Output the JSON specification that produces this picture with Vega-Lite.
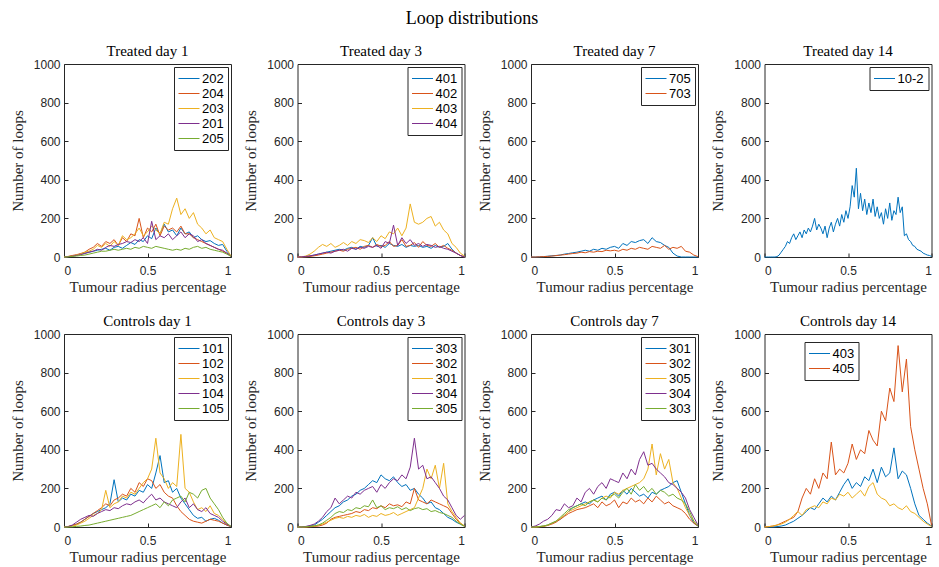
{
"$schema":"https://vega.github.io/schema/vega-lite/v6.json",
"padding":{"left":9,"top":9,"right":5,"bottom":5},
"background":"white",
"title":{"text":"Loop distributions","font":"Liberation Serif","fontSize":18,"fontWeight":"normal","color":"black","anchor":"middle","offset":16,"frame":"bounds"},
"config":{
 "view":{"stroke":"#262626","strokeWidth":1},
 "axis":{"domain":false,"grid":false,"tickColor":"#262626","tickSize":-4,"labelPadding":8,"labelFont":"Liberation Sans","labelFontSize":12,"labelColor":"#262626","titleFont":"Liberation Serif","titleFontSize":15,"titleFontWeight":"normal","titleColor":"#262626"},
 "axisX":{"labelPadding":12,"titlePadding":3},
 "axisY":{"titlePadding":8},
 "title":{"font":"Liberation Serif","fontSize":15,"fontWeight":"normal","color":"black","offset":-1,"frame":"group"},
 "legend":{"orient":"top-right","offset":3,"strokeColor":"#262626","fillColor":"white","padding":4,"symbolType":"M-1,0L2,0","symbolSize":196,"symbolStrokeWidth":1,"labelFont":"Liberation Sans","labelFontSize":13,"labelColor":"black","labelOffset":9,"rowPadding":0,"cornerRadius":0},
 "line":{"strokeWidth":1,"clip":true}
},
"bounds":"flush",
"columns":4,
"spacing":{"row":77,"column":66.5},
"resolve":{"scale":{"color":"independent"},"legend":{"color":"independent"}},
"datasets":{
"t1":[
{"s":"202","x":0,"y":0},{"s":"202","x":0.025,"y":2},{"s":"202","x":0.05,"y":5},{"s":"202","x":0.075,"y":10},{"s":"202","x":0.1,"y":15},{"s":"202","x":0.125,"y":20},{"s":"202","x":0.15,"y":25},{"s":"202","x":0.175,"y":30},{"s":"202","x":0.2,"y":35},{"s":"202","x":0.225,"y":40},{"s":"202","x":0.25,"y":45},{"s":"202","x":0.275,"y":35},{"s":"202","x":0.3,"y":50},{"s":"202","x":0.325,"y":55},{"s":"202","x":0.35,"y":45},{"s":"202","x":0.375,"y":60},{"s":"202","x":0.4,"y":75},{"s":"202","x":0.425,"y":65},{"s":"202","x":0.45,"y":90},{"s":"202","x":0.475,"y":80},{"s":"202","x":0.5,"y":110},{"s":"202","x":0.525,"y":95},{"s":"202","x":0.55,"y":150},{"s":"202","x":0.575,"y":120},{"s":"202","x":0.6,"y":170},{"s":"202","x":0.625,"y":130},{"s":"202","x":0.65,"y":140},{"s":"202","x":0.675,"y":110},{"s":"202","x":0.7,"y":150},{"s":"202","x":0.725,"y":120},{"s":"202","x":0.75,"y":130},{"s":"202","x":0.775,"y":100},{"s":"202","x":0.8,"y":110},{"s":"202","x":0.825,"y":90},{"s":"202","x":0.85,"y":80},{"s":"202","x":0.875,"y":85},{"s":"202","x":0.9,"y":70},{"s":"202","x":0.925,"y":60},{"s":"202","x":0.95,"y":65},{"s":"202","x":0.975,"y":30},{"s":"202","x":1,"y":5},
{"s":"204","x":0,"y":0},{"s":"204","x":0.025,"y":3},{"s":"204","x":0.05,"y":8},{"s":"204","x":0.075,"y":12},{"s":"204","x":0.1,"y":18},{"s":"204","x":0.125,"y":25},{"s":"204","x":0.15,"y":40},{"s":"204","x":0.175,"y":50},{"s":"204","x":0.2,"y":70},{"s":"204","x":0.225,"y":55},{"s":"204","x":0.25,"y":80},{"s":"204","x":0.275,"y":70},{"s":"204","x":0.3,"y":90},{"s":"204","x":0.325,"y":60},{"s":"204","x":0.35,"y":100},{"s":"204","x":0.375,"y":80},{"s":"204","x":0.4,"y":120},{"s":"204","x":0.425,"y":110},{"s":"204","x":0.45,"y":200},{"s":"204","x":0.475,"y":100},{"s":"204","x":0.5,"y":150},{"s":"204","x":0.525,"y":130},{"s":"204","x":0.55,"y":170},{"s":"204","x":0.575,"y":110},{"s":"204","x":0.6,"y":160},{"s":"204","x":0.625,"y":140},{"s":"204","x":0.65,"y":150},{"s":"204","x":0.675,"y":130},{"s":"204","x":0.7,"y":160},{"s":"204","x":0.725,"y":120},{"s":"204","x":0.75,"y":120},{"s":"204","x":0.775,"y":100},{"s":"204","x":0.8,"y":90},{"s":"204","x":0.825,"y":80},{"s":"204","x":0.85,"y":70},{"s":"204","x":0.875,"y":60},{"s":"204","x":0.9,"y":50},{"s":"204","x":0.925,"y":40},{"s":"204","x":0.95,"y":30},{"s":"204","x":0.975,"y":20},{"s":"204","x":1,"y":5},
{"s":"203","x":0,"y":0},{"s":"203","x":0.025,"y":2},{"s":"203","x":0.05,"y":5},{"s":"203","x":0.075,"y":10},{"s":"203","x":0.1,"y":15},{"s":"203","x":0.125,"y":25},{"s":"203","x":0.15,"y":30},{"s":"203","x":0.175,"y":40},{"s":"203","x":0.2,"y":60},{"s":"203","x":0.225,"y":50},{"s":"203","x":0.25,"y":70},{"s":"203","x":0.275,"y":55},{"s":"203","x":0.3,"y":80},{"s":"203","x":0.325,"y":60},{"s":"203","x":0.35,"y":110},{"s":"203","x":0.375,"y":90},{"s":"203","x":0.4,"y":100},{"s":"203","x":0.425,"y":120},{"s":"203","x":0.45,"y":150},{"s":"203","x":0.475,"y":110},{"s":"203","x":0.5,"y":130},{"s":"203","x":0.525,"y":160},{"s":"203","x":0.55,"y":140},{"s":"203","x":0.575,"y":120},{"s":"203","x":0.6,"y":180},{"s":"203","x":0.625,"y":170},{"s":"203","x":0.65,"y":250},{"s":"203","x":0.675,"y":305},{"s":"203","x":0.7,"y":220},{"s":"203","x":0.725,"y":250},{"s":"203","x":0.75,"y":200},{"s":"203","x":0.775,"y":230},{"s":"203","x":0.8,"y":170},{"s":"203","x":0.825,"y":150},{"s":"203","x":0.85,"y":120},{"s":"203","x":0.875,"y":140},{"s":"203","x":0.9,"y":100},{"s":"203","x":0.925,"y":90},{"s":"203","x":0.95,"y":80},{"s":"203","x":0.975,"y":40},{"s":"203","x":1,"y":5},
{"s":"201","x":0,"y":0},{"s":"201","x":0.025,"y":2},{"s":"201","x":0.05,"y":4},{"s":"201","x":0.075,"y":8},{"s":"201","x":0.1,"y":12},{"s":"201","x":0.125,"y":18},{"s":"201","x":0.15,"y":25},{"s":"201","x":0.175,"y":30},{"s":"201","x":0.2,"y":40},{"s":"201","x":0.225,"y":35},{"s":"201","x":0.25,"y":50},{"s":"201","x":0.275,"y":60},{"s":"201","x":0.3,"y":55},{"s":"201","x":0.325,"y":65},{"s":"201","x":0.35,"y":70},{"s":"201","x":0.375,"y":80},{"s":"201","x":0.4,"y":75},{"s":"201","x":0.425,"y":90},{"s":"201","x":0.45,"y":80},{"s":"201","x":0.475,"y":100},{"s":"201","x":0.5,"y":70},{"s":"201","x":0.525,"y":185},{"s":"201","x":0.55,"y":90},{"s":"201","x":0.575,"y":110},{"s":"201","x":0.6,"y":100},{"s":"201","x":0.625,"y":120},{"s":"201","x":0.65,"y":90},{"s":"201","x":0.675,"y":110},{"s":"201","x":0.7,"y":130},{"s":"201","x":0.725,"y":100},{"s":"201","x":0.75,"y":120},{"s":"201","x":0.775,"y":110},{"s":"201","x":0.8,"y":80},{"s":"201","x":0.825,"y":90},{"s":"201","x":0.85,"y":70},{"s":"201","x":0.875,"y":60},{"s":"201","x":0.9,"y":50},{"s":"201","x":0.925,"y":40},{"s":"201","x":0.95,"y":35},{"s":"201","x":0.975,"y":20},{"s":"201","x":1,"y":3},
{"s":"205","x":0,"y":0},{"s":"205","x":0.025,"y":1},{"s":"205","x":0.05,"y":3},{"s":"205","x":0.075,"y":5},{"s":"205","x":0.1,"y":8},{"s":"205","x":0.125,"y":10},{"s":"205","x":0.15,"y":15},{"s":"205","x":0.175,"y":20},{"s":"205","x":0.2,"y":25},{"s":"205","x":0.225,"y":30},{"s":"205","x":0.25,"y":30},{"s":"205","x":0.275,"y":35},{"s":"205","x":0.3,"y":40},{"s":"205","x":0.325,"y":35},{"s":"205","x":0.35,"y":40},{"s":"205","x":0.375,"y":45},{"s":"205","x":0.4,"y":40},{"s":"205","x":0.425,"y":50},{"s":"205","x":0.45,"y":45},{"s":"205","x":0.475,"y":55},{"s":"205","x":0.5,"y":50},{"s":"205","x":0.525,"y":45},{"s":"205","x":0.55,"y":55},{"s":"205","x":0.575,"y":50},{"s":"205","x":0.6,"y":45},{"s":"205","x":0.625,"y":40},{"s":"205","x":0.65,"y":35},{"s":"205","x":0.675,"y":40},{"s":"205","x":0.7,"y":35},{"s":"205","x":0.725,"y":45},{"s":"205","x":0.75,"y":40},{"s":"205","x":0.775,"y":50},{"s":"205","x":0.8,"y":55},{"s":"205","x":0.825,"y":45},{"s":"205","x":0.85,"y":50},{"s":"205","x":0.875,"y":40},{"s":"205","x":0.9,"y":35},{"s":"205","x":0.925,"y":30},{"s":"205","x":0.95,"y":25},{"s":"205","x":0.975,"y":15},{"s":"205","x":1,"y":3}
],
"t3":[
{"s":"401","x":0,"y":0},{"s":"401","x":0.025,"y":0},{"s":"401","x":0.05,"y":2},{"s":"401","x":0.075,"y":5},{"s":"401","x":0.1,"y":10},{"s":"401","x":0.125,"y":15},{"s":"401","x":0.15,"y":20},{"s":"401","x":0.175,"y":25},{"s":"401","x":0.2,"y":30},{"s":"401","x":0.225,"y":35},{"s":"401","x":0.25,"y":40},{"s":"401","x":0.275,"y":35},{"s":"401","x":0.3,"y":45},{"s":"401","x":0.325,"y":50},{"s":"401","x":0.35,"y":40},{"s":"401","x":0.375,"y":55},{"s":"401","x":0.4,"y":50},{"s":"401","x":0.425,"y":60},{"s":"401","x":0.45,"y":100},{"s":"401","x":0.475,"y":55},{"s":"401","x":0.5,"y":60},{"s":"401","x":0.525,"y":50},{"s":"401","x":0.55,"y":70},{"s":"401","x":0.575,"y":60},{"s":"401","x":0.6,"y":55},{"s":"401","x":0.625,"y":65},{"s":"401","x":0.65,"y":50},{"s":"401","x":0.675,"y":60},{"s":"401","x":0.7,"y":55},{"s":"401","x":0.725,"y":60},{"s":"401","x":0.75,"y":50},{"s":"401","x":0.775,"y":55},{"s":"401","x":0.8,"y":45},{"s":"401","x":0.825,"y":60},{"s":"401","x":0.85,"y":50},{"s":"401","x":0.875,"y":55},{"s":"401","x":0.9,"y":70},{"s":"401","x":0.925,"y":40},{"s":"401","x":0.95,"y":20},{"s":"401","x":0.975,"y":8},{"s":"401","x":1,"y":0},
{"s":"402","x":0,"y":0},{"s":"402","x":0.025,"y":0},{"s":"402","x":0.05,"y":1},{"s":"402","x":0.075,"y":3},{"s":"402","x":0.1,"y":6},{"s":"402","x":0.125,"y":10},{"s":"402","x":0.15,"y":15},{"s":"402","x":0.175,"y":20},{"s":"402","x":0.2,"y":25},{"s":"402","x":0.225,"y":30},{"s":"402","x":0.25,"y":35},{"s":"402","x":0.275,"y":30},{"s":"402","x":0.3,"y":40},{"s":"402","x":0.325,"y":45},{"s":"402","x":0.35,"y":50},{"s":"402","x":0.375,"y":40},{"s":"402","x":0.4,"y":55},{"s":"402","x":0.425,"y":60},{"s":"402","x":0.45,"y":50},{"s":"402","x":0.475,"y":65},{"s":"402","x":0.5,"y":55},{"s":"402","x":0.525,"y":60},{"s":"402","x":0.55,"y":80},{"s":"402","x":0.575,"y":55},{"s":"402","x":0.6,"y":60},{"s":"402","x":0.625,"y":90},{"s":"402","x":0.65,"y":55},{"s":"402","x":0.675,"y":60},{"s":"402","x":0.7,"y":75},{"s":"402","x":0.725,"y":50},{"s":"402","x":0.75,"y":80},{"s":"402","x":0.775,"y":60},{"s":"402","x":0.8,"y":55},{"s":"402","x":0.825,"y":70},{"s":"402","x":0.85,"y":50},{"s":"402","x":0.875,"y":60},{"s":"402","x":0.9,"y":45},{"s":"402","x":0.925,"y":35},{"s":"402","x":0.95,"y":20},{"s":"402","x":0.975,"y":8},{"s":"402","x":1,"y":0},
{"s":"403","x":0,"y":0},{"s":"403","x":0.025,"y":1},{"s":"403","x":0.05,"y":5},{"s":"403","x":0.075,"y":15},{"s":"403","x":0.1,"y":30},{"s":"403","x":0.125,"y":50},{"s":"403","x":0.15,"y":65},{"s":"403","x":0.175,"y":55},{"s":"403","x":0.2,"y":70},{"s":"403","x":0.225,"y":50},{"s":"403","x":0.25,"y":60},{"s":"403","x":0.275,"y":75},{"s":"403","x":0.3,"y":60},{"s":"403","x":0.325,"y":80},{"s":"403","x":0.35,"y":70},{"s":"403","x":0.375,"y":90},{"s":"403","x":0.4,"y":85},{"s":"403","x":0.425,"y":75},{"s":"403","x":0.45,"y":100},{"s":"403","x":0.475,"y":80},{"s":"403","x":0.5,"y":110},{"s":"403","x":0.525,"y":95},{"s":"403","x":0.55,"y":130},{"s":"403","x":0.575,"y":120},{"s":"403","x":0.6,"y":150},{"s":"403","x":0.625,"y":110},{"s":"403","x":0.65,"y":150},{"s":"403","x":0.675,"y":275},{"s":"403","x":0.7,"y":180},{"s":"403","x":0.725,"y":170},{"s":"403","x":0.75,"y":180},{"s":"403","x":0.775,"y":200},{"s":"403","x":0.8,"y":210},{"s":"403","x":0.825,"y":160},{"s":"403","x":0.85,"y":180},{"s":"403","x":0.875,"y":140},{"s":"403","x":0.9,"y":120},{"s":"403","x":0.925,"y":70},{"s":"403","x":0.95,"y":50},{"s":"403","x":0.975,"y":20},{"s":"403","x":1,"y":5},
{"s":"404","x":0,"y":0},{"s":"404","x":0.025,"y":1},{"s":"404","x":0.05,"y":3},{"s":"404","x":0.075,"y":6},{"s":"404","x":0.1,"y":10},{"s":"404","x":0.125,"y":15},{"s":"404","x":0.15,"y":20},{"s":"404","x":0.175,"y":25},{"s":"404","x":0.2,"y":20},{"s":"404","x":0.225,"y":30},{"s":"404","x":0.25,"y":35},{"s":"404","x":0.275,"y":40},{"s":"404","x":0.3,"y":30},{"s":"404","x":0.325,"y":45},{"s":"404","x":0.35,"y":40},{"s":"404","x":0.375,"y":50},{"s":"404","x":0.4,"y":45},{"s":"404","x":0.425,"y":55},{"s":"404","x":0.45,"y":50},{"s":"404","x":0.475,"y":60},{"s":"404","x":0.5,"y":45},{"s":"404","x":0.525,"y":80},{"s":"404","x":0.55,"y":70},{"s":"404","x":0.575,"y":165},{"s":"404","x":0.6,"y":60},{"s":"404","x":0.625,"y":100},{"s":"404","x":0.65,"y":70},{"s":"404","x":0.675,"y":90},{"s":"404","x":0.7,"y":60},{"s":"404","x":0.725,"y":70},{"s":"404","x":0.75,"y":55},{"s":"404","x":0.775,"y":65},{"s":"404","x":0.8,"y":60},{"s":"404","x":0.825,"y":50},{"s":"404","x":0.85,"y":55},{"s":"404","x":0.875,"y":45},{"s":"404","x":0.9,"y":40},{"s":"404","x":0.925,"y":30},{"s":"404","x":0.95,"y":20},{"s":"404","x":0.975,"y":8},{"s":"404","x":1,"y":0}
],
"t7":[
{"s":"705","x":0,"y":0},{"s":"705","x":0.025,"y":0},{"s":"705","x":0.05,"y":1},{"s":"705","x":0.075,"y":2},{"s":"705","x":0.1,"y":4},{"s":"705","x":0.125,"y":6},{"s":"705","x":0.15,"y":8},{"s":"705","x":0.175,"y":10},{"s":"705","x":0.2,"y":15},{"s":"705","x":0.225,"y":18},{"s":"705","x":0.25,"y":22},{"s":"705","x":0.275,"y":25},{"s":"705","x":0.3,"y":30},{"s":"705","x":0.325,"y":35},{"s":"705","x":0.35,"y":30},{"s":"705","x":0.375,"y":40},{"s":"705","x":0.4,"y":35},{"s":"705","x":0.425,"y":45},{"s":"705","x":0.45,"y":40},{"s":"705","x":0.475,"y":50},{"s":"705","x":0.5,"y":55},{"s":"705","x":0.525,"y":45},{"s":"705","x":0.55,"y":70},{"s":"705","x":0.575,"y":60},{"s":"705","x":0.6,"y":80},{"s":"705","x":0.625,"y":75},{"s":"705","x":0.65,"y":85},{"s":"705","x":0.675,"y":90},{"s":"705","x":0.7,"y":70},{"s":"705","x":0.725,"y":100},{"s":"705","x":0.75,"y":80},{"s":"705","x":0.775,"y":75},{"s":"705","x":0.8,"y":60},{"s":"705","x":0.825,"y":50},{"s":"705","x":0.85,"y":20},{"s":"705","x":0.875,"y":5},{"s":"705","x":0.9,"y":0},{"s":"705","x":0.925,"y":0},{"s":"705","x":0.95,"y":0},{"s":"705","x":0.975,"y":0},{"s":"705","x":1,"y":0},
{"s":"703","x":0,"y":0},{"s":"703","x":0.025,"y":0},{"s":"703","x":0.05,"y":1},{"s":"703","x":0.075,"y":2},{"s":"703","x":0.1,"y":3},{"s":"703","x":0.125,"y":5},{"s":"703","x":0.15,"y":7},{"s":"703","x":0.175,"y":10},{"s":"703","x":0.2,"y":12},{"s":"703","x":0.225,"y":15},{"s":"703","x":0.25,"y":18},{"s":"703","x":0.275,"y":20},{"s":"703","x":0.3,"y":25},{"s":"703","x":0.325,"y":22},{"s":"703","x":0.35,"y":28},{"s":"703","x":0.375,"y":25},{"s":"703","x":0.4,"y":30},{"s":"703","x":0.425,"y":28},{"s":"703","x":0.45,"y":35},{"s":"703","x":0.475,"y":32},{"s":"703","x":0.5,"y":35},{"s":"703","x":0.525,"y":30},{"s":"703","x":0.55,"y":40},{"s":"703","x":0.575,"y":35},{"s":"703","x":0.6,"y":45},{"s":"703","x":0.625,"y":40},{"s":"703","x":0.65,"y":50},{"s":"703","x":0.675,"y":45},{"s":"703","x":0.7,"y":40},{"s":"703","x":0.725,"y":55},{"s":"703","x":0.75,"y":50},{"s":"703","x":0.775,"y":45},{"s":"703","x":0.8,"y":60},{"s":"703","x":0.825,"y":40},{"s":"703","x":0.85,"y":50},{"s":"703","x":0.875,"y":45},{"s":"703","x":0.9,"y":55},{"s":"703","x":0.925,"y":30},{"s":"703","x":0.95,"y":25},{"s":"703","x":0.975,"y":10},{"s":"703","x":1,"y":2}
],
"t14":[
{"s":"10-2","x":0,"y":0},{"s":"10-2","x":0.0125,"y":0},{"s":"10-2","x":0.025,"y":0},{"s":"10-2","x":0.0375,"y":0},{"s":"10-2","x":0.05,"y":0},{"s":"10-2","x":0.0625,"y":0},{"s":"10-2","x":0.075,"y":2},{"s":"10-2","x":0.0875,"y":10},{"s":"10-2","x":0.1,"y":25},{"s":"10-2","x":0.1125,"y":40},{"s":"10-2","x":0.125,"y":55},{"s":"10-2","x":0.1375,"y":80},{"s":"10-2","x":0.15,"y":70},{"s":"10-2","x":0.1625,"y":100},{"s":"10-2","x":0.175,"y":120},{"s":"10-2","x":0.1875,"y":90},{"s":"10-2","x":0.2,"y":110},{"s":"10-2","x":0.2125,"y":130},{"s":"10-2","x":0.225,"y":100},{"s":"10-2","x":0.2375,"y":140},{"s":"10-2","x":0.25,"y":120},{"s":"10-2","x":0.2625,"y":150},{"s":"10-2","x":0.275,"y":130},{"s":"10-2","x":0.2875,"y":160},{"s":"10-2","x":0.3,"y":200},{"s":"10-2","x":0.3125,"y":140},{"s":"10-2","x":0.325,"y":170},{"s":"10-2","x":0.3375,"y":150},{"s":"10-2","x":0.35,"y":120},{"s":"10-2","x":0.3625,"y":160},{"s":"10-2","x":0.375,"y":100},{"s":"10-2","x":0.3875,"y":150},{"s":"10-2","x":0.4,"y":180},{"s":"10-2","x":0.4125,"y":130},{"s":"10-2","x":0.425,"y":170},{"s":"10-2","x":0.4375,"y":200},{"s":"10-2","x":0.45,"y":160},{"s":"10-2","x":0.4625,"y":220},{"s":"10-2","x":0.475,"y":180},{"s":"10-2","x":0.4875,"y":240},{"s":"10-2","x":0.5,"y":200},{"s":"10-2","x":0.5125,"y":260},{"s":"10-2","x":0.525,"y":370},{"s":"10-2","x":0.5375,"y":310},{"s":"10-2","x":0.55,"y":460},{"s":"10-2","x":0.5625,"y":250},{"s":"10-2","x":0.575,"y":330},{"s":"10-2","x":0.5875,"y":240},{"s":"10-2","x":0.6,"y":300},{"s":"10-2","x":0.6125,"y":220},{"s":"10-2","x":0.625,"y":280},{"s":"10-2","x":0.6375,"y":230},{"s":"10-2","x":0.65,"y":300},{"s":"10-2","x":0.6625,"y":210},{"s":"10-2","x":0.675,"y":260},{"s":"10-2","x":0.6875,"y":200},{"s":"10-2","x":0.7,"y":230},{"s":"10-2","x":0.7125,"y":170},{"s":"10-2","x":0.725,"y":250},{"s":"10-2","x":0.7375,"y":200},{"s":"10-2","x":0.75,"y":280},{"s":"10-2","x":0.7625,"y":190},{"s":"10-2","x":0.775,"y":240},{"s":"10-2","x":0.7875,"y":220},{"s":"10-2","x":0.8,"y":310},{"s":"10-2","x":0.8125,"y":230},{"s":"10-2","x":0.825,"y":260},{"s":"10-2","x":0.8375,"y":110},{"s":"10-2","x":0.85,"y":120},{"s":"10-2","x":0.8625,"y":90},{"s":"10-2","x":0.875,"y":80},{"s":"10-2","x":0.8875,"y":60},{"s":"10-2","x":0.9,"y":55},{"s":"10-2","x":0.9125,"y":40},{"s":"10-2","x":0.925,"y":35},{"s":"10-2","x":0.9375,"y":30},{"s":"10-2","x":0.95,"y":20},{"s":"10-2","x":0.9625,"y":15},{"s":"10-2","x":0.975,"y":10},{"s":"10-2","x":0.9875,"y":8},{"s":"10-2","x":1,"y":3}
],
"c1":[
{"s":"101","x":0,"y":0},{"s":"101","x":0.025,"y":2},{"s":"101","x":0.05,"y":8},{"s":"101","x":0.075,"y":15},{"s":"101","x":0.1,"y":25},{"s":"101","x":0.125,"y":40},{"s":"101","x":0.15,"y":55},{"s":"101","x":0.175,"y":70},{"s":"101","x":0.2,"y":80},{"s":"101","x":0.225,"y":90},{"s":"101","x":0.25,"y":100},{"s":"101","x":0.275,"y":120},{"s":"101","x":0.3,"y":245},{"s":"101","x":0.325,"y":130},{"s":"101","x":0.35,"y":150},{"s":"101","x":0.375,"y":140},{"s":"101","x":0.4,"y":170},{"s":"101","x":0.425,"y":160},{"s":"101","x":0.45,"y":190},{"s":"101","x":0.475,"y":180},{"s":"101","x":0.5,"y":220},{"s":"101","x":0.525,"y":200},{"s":"101","x":0.55,"y":280},{"s":"101","x":0.575,"y":370},{"s":"101","x":0.6,"y":230},{"s":"101","x":0.625,"y":240},{"s":"101","x":0.65,"y":180},{"s":"101","x":0.675,"y":200},{"s":"101","x":0.7,"y":150},{"s":"101","x":0.725,"y":120},{"s":"101","x":0.75,"y":90},{"s":"101","x":0.775,"y":60},{"s":"101","x":0.8,"y":45},{"s":"101","x":0.825,"y":50},{"s":"101","x":0.85,"y":30},{"s":"101","x":0.875,"y":40},{"s":"101","x":0.9,"y":45},{"s":"101","x":0.925,"y":35},{"s":"101","x":0.95,"y":20},{"s":"101","x":0.975,"y":10},{"s":"101","x":1,"y":3},
{"s":"102","x":0,"y":0},{"s":"102","x":0.025,"y":3},{"s":"102","x":0.05,"y":8},{"s":"102","x":0.075,"y":15},{"s":"102","x":0.1,"y":25},{"s":"102","x":0.125,"y":40},{"s":"102","x":0.15,"y":55},{"s":"102","x":0.175,"y":70},{"s":"102","x":0.2,"y":85},{"s":"102","x":0.225,"y":100},{"s":"102","x":0.25,"y":120},{"s":"102","x":0.275,"y":110},{"s":"102","x":0.3,"y":140},{"s":"102","x":0.325,"y":150},{"s":"102","x":0.35,"y":170},{"s":"102","x":0.375,"y":160},{"s":"102","x":0.4,"y":200},{"s":"102","x":0.425,"y":180},{"s":"102","x":0.45,"y":230},{"s":"102","x":0.475,"y":210},{"s":"102","x":0.5,"y":250},{"s":"102","x":0.525,"y":240},{"s":"102","x":0.55,"y":200},{"s":"102","x":0.575,"y":220},{"s":"102","x":0.6,"y":180},{"s":"102","x":0.625,"y":160},{"s":"102","x":0.65,"y":150},{"s":"102","x":0.675,"y":110},{"s":"102","x":0.7,"y":80},{"s":"102","x":0.725,"y":60},{"s":"102","x":0.75,"y":40},{"s":"102","x":0.775,"y":30},{"s":"102","x":0.8,"y":25},{"s":"102","x":0.825,"y":20},{"s":"102","x":0.85,"y":30},{"s":"102","x":0.875,"y":40},{"s":"102","x":0.9,"y":35},{"s":"102","x":0.925,"y":30},{"s":"102","x":0.95,"y":20},{"s":"102","x":0.975,"y":10},{"s":"102","x":1,"y":2},
{"s":"103","x":0,"y":0},{"s":"103","x":0.025,"y":1},{"s":"103","x":0.05,"y":5},{"s":"103","x":0.075,"y":10},{"s":"103","x":0.1,"y":20},{"s":"103","x":0.125,"y":30},{"s":"103","x":0.15,"y":45},{"s":"103","x":0.175,"y":60},{"s":"103","x":0.2,"y":70},{"s":"103","x":0.225,"y":90},{"s":"103","x":0.25,"y":190},{"s":"103","x":0.275,"y":100},{"s":"103","x":0.3,"y":120},{"s":"103","x":0.325,"y":130},{"s":"103","x":0.35,"y":160},{"s":"103","x":0.375,"y":150},{"s":"103","x":0.4,"y":180},{"s":"103","x":0.425,"y":170},{"s":"103","x":0.45,"y":200},{"s":"103","x":0.475,"y":230},{"s":"103","x":0.5,"y":250},{"s":"103","x":0.525,"y":300},{"s":"103","x":0.55,"y":460},{"s":"103","x":0.575,"y":280},{"s":"103","x":0.6,"y":250},{"s":"103","x":0.625,"y":200},{"s":"103","x":0.65,"y":230},{"s":"103","x":0.675,"y":210},{"s":"103","x":0.7,"y":480},{"s":"103","x":0.725,"y":200},{"s":"103","x":0.75,"y":180},{"s":"103","x":0.775,"y":130},{"s":"103","x":0.8,"y":90},{"s":"103","x":0.825,"y":100},{"s":"103","x":0.85,"y":80},{"s":"103","x":0.875,"y":110},{"s":"103","x":0.9,"y":70},{"s":"103","x":0.925,"y":60},{"s":"103","x":0.95,"y":40},{"s":"103","x":0.975,"y":15},{"s":"103","x":1,"y":2},
{"s":"104","x":0,"y":0},{"s":"104","x":0.025,"y":2},{"s":"104","x":0.05,"y":10},{"s":"104","x":0.075,"y":25},{"s":"104","x":0.1,"y":40},{"s":"104","x":0.125,"y":50},{"s":"104","x":0.15,"y":60},{"s":"104","x":0.175,"y":55},{"s":"104","x":0.2,"y":70},{"s":"104","x":0.225,"y":80},{"s":"104","x":0.25,"y":90},{"s":"104","x":0.275,"y":85},{"s":"104","x":0.3,"y":100},{"s":"104","x":0.325,"y":95},{"s":"104","x":0.35,"y":110},{"s":"104","x":0.375,"y":120},{"s":"104","x":0.4,"y":115},{"s":"104","x":0.425,"y":130},{"s":"104","x":0.45,"y":140},{"s":"104","x":0.475,"y":125},{"s":"104","x":0.5,"y":150},{"s":"104","x":0.525,"y":170},{"s":"104","x":0.55,"y":140},{"s":"104","x":0.575,"y":150},{"s":"104","x":0.6,"y":130},{"s":"104","x":0.625,"y":120},{"s":"104","x":0.65,"y":110},{"s":"104","x":0.675,"y":100},{"s":"104","x":0.7,"y":130},{"s":"104","x":0.725,"y":150},{"s":"104","x":0.75,"y":100},{"s":"104","x":0.775,"y":120},{"s":"104","x":0.8,"y":90},{"s":"104","x":0.825,"y":80},{"s":"104","x":0.85,"y":100},{"s":"104","x":0.875,"y":70},{"s":"104","x":0.9,"y":60},{"s":"104","x":0.925,"y":50},{"s":"104","x":0.95,"y":30},{"s":"104","x":0.975,"y":15},{"s":"104","x":1,"y":2},
{"s":"105","x":0,"y":0},{"s":"105","x":0.025,"y":0},{"s":"105","x":0.05,"y":1},{"s":"105","x":0.075,"y":3},{"s":"105","x":0.1,"y":5},{"s":"105","x":0.125,"y":8},{"s":"105","x":0.15,"y":10},{"s":"105","x":0.175,"y":15},{"s":"105","x":0.2,"y":20},{"s":"105","x":0.225,"y":25},{"s":"105","x":0.25,"y":30},{"s":"105","x":0.275,"y":35},{"s":"105","x":0.3,"y":40},{"s":"105","x":0.325,"y":45},{"s":"105","x":0.35,"y":50},{"s":"105","x":0.375,"y":55},{"s":"105","x":0.4,"y":60},{"s":"105","x":0.425,"y":70},{"s":"105","x":0.45,"y":80},{"s":"105","x":0.475,"y":90},{"s":"105","x":0.5,"y":100},{"s":"105","x":0.525,"y":110},{"s":"105","x":0.55,"y":120},{"s":"105","x":0.575,"y":100},{"s":"105","x":0.6,"y":130},{"s":"105","x":0.625,"y":110},{"s":"105","x":0.65,"y":140},{"s":"105","x":0.675,"y":150},{"s":"105","x":0.7,"y":160},{"s":"105","x":0.725,"y":130},{"s":"105","x":0.75,"y":180},{"s":"105","x":0.775,"y":170},{"s":"105","x":0.8,"y":150},{"s":"105","x":0.825,"y":190},{"s":"105","x":0.85,"y":200},{"s":"105","x":0.875,"y":150},{"s":"105","x":0.9,"y":120},{"s":"105","x":0.925,"y":90},{"s":"105","x":0.95,"y":50},{"s":"105","x":0.975,"y":20},{"s":"105","x":1,"y":3}
],
"c3":[
{"s":"303","x":0,"y":0},{"s":"303","x":0.025,"y":0},{"s":"303","x":0.05,"y":2},{"s":"303","x":0.075,"y":5},{"s":"303","x":0.1,"y":10},{"s":"303","x":0.125,"y":25},{"s":"303","x":0.15,"y":40},{"s":"303","x":0.175,"y":60},{"s":"303","x":0.2,"y":80},{"s":"303","x":0.225,"y":100},{"s":"303","x":0.25,"y":110},{"s":"303","x":0.275,"y":130},{"s":"303","x":0.3,"y":140},{"s":"303","x":0.325,"y":160},{"s":"303","x":0.35,"y":170},{"s":"303","x":0.375,"y":190},{"s":"303","x":0.4,"y":200},{"s":"303","x":0.425,"y":220},{"s":"303","x":0.45,"y":240},{"s":"303","x":0.475,"y":230},{"s":"303","x":0.5,"y":270},{"s":"303","x":0.525,"y":250},{"s":"303","x":0.55,"y":240},{"s":"303","x":0.575,"y":260},{"s":"303","x":0.6,"y":230},{"s":"303","x":0.625,"y":210},{"s":"303","x":0.65,"y":220},{"s":"303","x":0.675,"y":190},{"s":"303","x":0.7,"y":200},{"s":"303","x":0.725,"y":170},{"s":"303","x":0.75,"y":150},{"s":"303","x":0.775,"y":120},{"s":"303","x":0.8,"y":130},{"s":"303","x":0.825,"y":100},{"s":"303","x":0.85,"y":90},{"s":"303","x":0.875,"y":70},{"s":"303","x":0.9,"y":50},{"s":"303","x":0.925,"y":40},{"s":"303","x":0.95,"y":25},{"s":"303","x":0.975,"y":15},{"s":"303","x":1,"y":5},
{"s":"302","x":0,"y":0},{"s":"302","x":0.025,"y":0},{"s":"302","x":0.05,"y":0},{"s":"302","x":0.075,"y":1},{"s":"302","x":0.1,"y":3},{"s":"302","x":0.125,"y":5},{"s":"302","x":0.15,"y":10},{"s":"302","x":0.175,"y":20},{"s":"302","x":0.2,"y":40},{"s":"302","x":0.225,"y":50},{"s":"302","x":0.25,"y":55},{"s":"302","x":0.275,"y":60},{"s":"302","x":0.3,"y":65},{"s":"302","x":0.325,"y":70},{"s":"302","x":0.35,"y":80},{"s":"302","x":0.375,"y":75},{"s":"302","x":0.4,"y":90},{"s":"302","x":0.425,"y":85},{"s":"302","x":0.45,"y":100},{"s":"302","x":0.475,"y":95},{"s":"302","x":0.5,"y":110},{"s":"302","x":0.525,"y":100},{"s":"302","x":0.55,"y":120},{"s":"302","x":0.575,"y":110},{"s":"302","x":0.6,"y":115},{"s":"302","x":0.625,"y":105},{"s":"302","x":0.65,"y":130},{"s":"302","x":0.675,"y":120},{"s":"302","x":0.7,"y":200},{"s":"302","x":0.725,"y":140},{"s":"302","x":0.75,"y":130},{"s":"302","x":0.775,"y":120},{"s":"302","x":0.8,"y":140},{"s":"302","x":0.825,"y":130},{"s":"302","x":0.85,"y":120},{"s":"302","x":0.875,"y":110},{"s":"302","x":0.9,"y":100},{"s":"302","x":0.925,"y":70},{"s":"302","x":0.95,"y":40},{"s":"302","x":0.975,"y":20},{"s":"302","x":1,"y":5},
{"s":"301","x":0,"y":0},{"s":"301","x":0.025,"y":0},{"s":"301","x":0.05,"y":1},{"s":"301","x":0.075,"y":3},{"s":"301","x":0.1,"y":5},{"s":"301","x":0.125,"y":10},{"s":"301","x":0.15,"y":15},{"s":"301","x":0.175,"y":25},{"s":"301","x":0.2,"y":35},{"s":"301","x":0.225,"y":45},{"s":"301","x":0.25,"y":50},{"s":"301","x":0.275,"y":45},{"s":"301","x":0.3,"y":55},{"s":"301","x":0.325,"y":50},{"s":"301","x":0.35,"y":60},{"s":"301","x":0.375,"y":55},{"s":"301","x":0.4,"y":65},{"s":"301","x":0.425,"y":50},{"s":"301","x":0.45,"y":60},{"s":"301","x":0.475,"y":55},{"s":"301","x":0.5,"y":70},{"s":"301","x":0.525,"y":60},{"s":"301","x":0.55,"y":65},{"s":"301","x":0.575,"y":75},{"s":"301","x":0.6,"y":60},{"s":"301","x":0.625,"y":70},{"s":"301","x":0.65,"y":80},{"s":"301","x":0.675,"y":90},{"s":"301","x":0.7,"y":100},{"s":"301","x":0.725,"y":150},{"s":"301","x":0.75,"y":200},{"s":"301","x":0.775,"y":300},{"s":"301","x":0.8,"y":250},{"s":"301","x":0.825,"y":320},{"s":"301","x":0.85,"y":200},{"s":"301","x":0.875,"y":330},{"s":"301","x":0.9,"y":120},{"s":"301","x":0.925,"y":80},{"s":"301","x":0.95,"y":50},{"s":"301","x":0.975,"y":20},{"s":"301","x":1,"y":5},
{"s":"304","x":0,"y":0},{"s":"304","x":0.025,"y":0},{"s":"304","x":0.05,"y":3},{"s":"304","x":0.075,"y":8},{"s":"304","x":0.1,"y":15},{"s":"304","x":0.125,"y":30},{"s":"304","x":0.15,"y":50},{"s":"304","x":0.175,"y":80},{"s":"304","x":0.2,"y":100},{"s":"304","x":0.225,"y":150},{"s":"304","x":0.25,"y":120},{"s":"304","x":0.275,"y":140},{"s":"304","x":0.3,"y":160},{"s":"304","x":0.325,"y":150},{"s":"304","x":0.35,"y":180},{"s":"304","x":0.375,"y":170},{"s":"304","x":0.4,"y":190},{"s":"304","x":0.425,"y":200},{"s":"304","x":0.45,"y":210},{"s":"304","x":0.475,"y":180},{"s":"304","x":0.5,"y":220},{"s":"304","x":0.525,"y":200},{"s":"304","x":0.55,"y":230},{"s":"304","x":0.575,"y":250},{"s":"304","x":0.6,"y":240},{"s":"304","x":0.625,"y":270},{"s":"304","x":0.65,"y":250},{"s":"304","x":0.675,"y":310},{"s":"304","x":0.7,"y":460},{"s":"304","x":0.725,"y":300},{"s":"304","x":0.75,"y":320},{"s":"304","x":0.775,"y":250},{"s":"304","x":0.8,"y":260},{"s":"304","x":0.825,"y":230},{"s":"304","x":0.85,"y":200},{"s":"304","x":0.875,"y":160},{"s":"304","x":0.9,"y":140},{"s":"304","x":0.925,"y":100},{"s":"304","x":0.95,"y":60},{"s":"304","x":0.975,"y":40},{"s":"304","x":1,"y":60},
{"s":"305","x":0,"y":0},{"s":"305","x":0.025,"y":0},{"s":"305","x":0.05,"y":1},{"s":"305","x":0.075,"y":3},{"s":"305","x":0.1,"y":6},{"s":"305","x":0.125,"y":10},{"s":"305","x":0.15,"y":20},{"s":"305","x":0.175,"y":35},{"s":"305","x":0.2,"y":50},{"s":"305","x":0.225,"y":70},{"s":"305","x":0.25,"y":80},{"s":"305","x":0.275,"y":75},{"s":"305","x":0.3,"y":90},{"s":"305","x":0.325,"y":85},{"s":"305","x":0.35,"y":100},{"s":"305","x":0.375,"y":95},{"s":"305","x":0.4,"y":110},{"s":"305","x":0.425,"y":105},{"s":"305","x":0.45,"y":140},{"s":"305","x":0.475,"y":100},{"s":"305","x":0.5,"y":110},{"s":"305","x":0.525,"y":90},{"s":"305","x":0.55,"y":100},{"s":"305","x":0.575,"y":95},{"s":"305","x":0.6,"y":105},{"s":"305","x":0.625,"y":90},{"s":"305","x":0.65,"y":100},{"s":"305","x":0.675,"y":85},{"s":"305","x":0.7,"y":95},{"s":"305","x":0.725,"y":100},{"s":"305","x":0.75,"y":90},{"s":"305","x":0.775,"y":95},{"s":"305","x":0.8,"y":80},{"s":"305","x":0.825,"y":85},{"s":"305","x":0.85,"y":75},{"s":"305","x":0.875,"y":70},{"s":"305","x":0.9,"y":60},{"s":"305","x":0.925,"y":50},{"s":"305","x":0.95,"y":30},{"s":"305","x":0.975,"y":15},{"s":"305","x":1,"y":3}
],
"c7":[
{"s":"301","x":0,"y":0},{"s":"301","x":0.025,"y":0},{"s":"301","x":0.05,"y":2},{"s":"301","x":0.075,"y":5},{"s":"301","x":0.1,"y":10},{"s":"301","x":0.125,"y":20},{"s":"301","x":0.15,"y":30},{"s":"301","x":0.175,"y":40},{"s":"301","x":0.2,"y":60},{"s":"301","x":0.225,"y":80},{"s":"301","x":0.25,"y":100},{"s":"301","x":0.275,"y":110},{"s":"301","x":0.3,"y":120},{"s":"301","x":0.325,"y":130},{"s":"301","x":0.35,"y":120},{"s":"301","x":0.375,"y":140},{"s":"301","x":0.4,"y":150},{"s":"301","x":0.425,"y":160},{"s":"301","x":0.45,"y":140},{"s":"301","x":0.475,"y":170},{"s":"301","x":0.5,"y":180},{"s":"301","x":0.525,"y":160},{"s":"301","x":0.55,"y":190},{"s":"301","x":0.575,"y":170},{"s":"301","x":0.6,"y":200},{"s":"301","x":0.625,"y":180},{"s":"301","x":0.65,"y":160},{"s":"301","x":0.675,"y":170},{"s":"301","x":0.7,"y":150},{"s":"301","x":0.725,"y":180},{"s":"301","x":0.75,"y":170},{"s":"301","x":0.775,"y":190},{"s":"301","x":0.8,"y":200},{"s":"301","x":0.825,"y":210},{"s":"301","x":0.85,"y":230},{"s":"301","x":0.875,"y":240},{"s":"301","x":0.9,"y":180},{"s":"301","x":0.925,"y":120},{"s":"301","x":0.95,"y":60},{"s":"301","x":0.975,"y":20},{"s":"301","x":1,"y":5},
{"s":"302","x":0,"y":0},{"s":"302","x":0.025,"y":0},{"s":"302","x":0.05,"y":1},{"s":"302","x":0.075,"y":3},{"s":"302","x":0.1,"y":8},{"s":"302","x":0.125,"y":15},{"s":"302","x":0.15,"y":25},{"s":"302","x":0.175,"y":40},{"s":"302","x":0.2,"y":55},{"s":"302","x":0.225,"y":70},{"s":"302","x":0.25,"y":80},{"s":"302","x":0.275,"y":90},{"s":"302","x":0.3,"y":95},{"s":"302","x":0.325,"y":100},{"s":"302","x":0.35,"y":110},{"s":"302","x":0.375,"y":120},{"s":"302","x":0.4,"y":100},{"s":"302","x":0.425,"y":130},{"s":"302","x":0.45,"y":110},{"s":"302","x":0.475,"y":120},{"s":"302","x":0.5,"y":140},{"s":"302","x":0.525,"y":100},{"s":"302","x":0.55,"y":130},{"s":"302","x":0.575,"y":120},{"s":"302","x":0.6,"y":150},{"s":"302","x":0.625,"y":130},{"s":"302","x":0.65,"y":140},{"s":"302","x":0.675,"y":120},{"s":"302","x":0.7,"y":150},{"s":"302","x":0.725,"y":130},{"s":"302","x":0.75,"y":160},{"s":"302","x":0.775,"y":140},{"s":"302","x":0.8,"y":120},{"s":"302","x":0.825,"y":130},{"s":"302","x":0.85,"y":110},{"s":"302","x":0.875,"y":100},{"s":"302","x":0.9,"y":90},{"s":"302","x":0.925,"y":70},{"s":"302","x":0.95,"y":40},{"s":"302","x":0.975,"y":20},{"s":"302","x":1,"y":5},
{"s":"305","x":0,"y":0},{"s":"305","x":0.025,"y":0},{"s":"305","x":0.05,"y":2},{"s":"305","x":0.075,"y":5},{"s":"305","x":0.1,"y":10},{"s":"305","x":0.125,"y":20},{"s":"305","x":0.15,"y":30},{"s":"305","x":0.175,"y":45},{"s":"305","x":0.2,"y":60},{"s":"305","x":0.225,"y":80},{"s":"305","x":0.25,"y":90},{"s":"305","x":0.275,"y":100},{"s":"305","x":0.3,"y":110},{"s":"305","x":0.325,"y":120},{"s":"305","x":0.35,"y":130},{"s":"305","x":0.375,"y":140},{"s":"305","x":0.4,"y":130},{"s":"305","x":0.425,"y":150},{"s":"305","x":0.45,"y":160},{"s":"305","x":0.475,"y":150},{"s":"305","x":0.5,"y":180},{"s":"305","x":0.525,"y":170},{"s":"305","x":0.55,"y":190},{"s":"305","x":0.575,"y":200},{"s":"305","x":0.6,"y":210},{"s":"305","x":0.625,"y":220},{"s":"305","x":0.65,"y":230},{"s":"305","x":0.675,"y":250},{"s":"305","x":0.7,"y":300},{"s":"305","x":0.725,"y":430},{"s":"305","x":0.75,"y":270},{"s":"305","x":0.775,"y":380},{"s":"305","x":0.8,"y":300},{"s":"305","x":0.825,"y":350},{"s":"305","x":0.85,"y":230},{"s":"305","x":0.875,"y":200},{"s":"305","x":0.9,"y":150},{"s":"305","x":0.925,"y":100},{"s":"305","x":0.95,"y":60},{"s":"305","x":0.975,"y":30},{"s":"305","x":1,"y":5},
{"s":"304","x":0,"y":0},{"s":"304","x":0.025,"y":5},{"s":"304","x":0.05,"y":15},{"s":"304","x":0.075,"y":30},{"s":"304","x":0.1,"y":40},{"s":"304","x":0.125,"y":60},{"s":"304","x":0.15,"y":90},{"s":"304","x":0.175,"y":85},{"s":"304","x":0.2,"y":120},{"s":"304","x":0.225,"y":100},{"s":"304","x":0.25,"y":110},{"s":"304","x":0.275,"y":150},{"s":"304","x":0.3,"y":130},{"s":"304","x":0.325,"y":180},{"s":"304","x":0.35,"y":200},{"s":"304","x":0.375,"y":170},{"s":"304","x":0.4,"y":210},{"s":"304","x":0.425,"y":230},{"s":"304","x":0.45,"y":200},{"s":"304","x":0.475,"y":250},{"s":"304","x":0.5,"y":240},{"s":"304","x":0.525,"y":230},{"s":"304","x":0.55,"y":280},{"s":"304","x":0.575,"y":250},{"s":"304","x":0.6,"y":300},{"s":"304","x":0.625,"y":270},{"s":"304","x":0.65,"y":350},{"s":"304","x":0.675,"y":390},{"s":"304","x":0.7,"y":320},{"s":"304","x":0.725,"y":330},{"s":"304","x":0.75,"y":300},{"s":"304","x":0.775,"y":280},{"s":"304","x":0.8,"y":260},{"s":"304","x":0.825,"y":230},{"s":"304","x":0.85,"y":220},{"s":"304","x":0.875,"y":200},{"s":"304","x":0.9,"y":180},{"s":"304","x":0.925,"y":150},{"s":"304","x":0.95,"y":90},{"s":"304","x":0.975,"y":50},{"s":"304","x":1,"y":10},
{"s":"303","x":0,"y":0},{"s":"303","x":0.025,"y":0},{"s":"303","x":0.05,"y":2},{"s":"303","x":0.075,"y":5},{"s":"303","x":0.1,"y":10},{"s":"303","x":0.125,"y":20},{"s":"303","x":0.15,"y":30},{"s":"303","x":0.175,"y":50},{"s":"303","x":0.2,"y":70},{"s":"303","x":0.225,"y":90},{"s":"303","x":0.25,"y":100},{"s":"303","x":0.275,"y":110},{"s":"303","x":0.3,"y":120},{"s":"303","x":0.325,"y":110},{"s":"303","x":0.35,"y":130},{"s":"303","x":0.375,"y":140},{"s":"303","x":0.4,"y":130},{"s":"303","x":0.425,"y":150},{"s":"303","x":0.45,"y":140},{"s":"303","x":0.475,"y":160},{"s":"303","x":0.5,"y":170},{"s":"303","x":0.525,"y":150},{"s":"303","x":0.55,"y":180},{"s":"303","x":0.575,"y":200},{"s":"303","x":0.6,"y":170},{"s":"303","x":0.625,"y":220},{"s":"303","x":0.65,"y":190},{"s":"303","x":0.675,"y":210},{"s":"303","x":0.7,"y":180},{"s":"303","x":0.725,"y":200},{"s":"303","x":0.75,"y":170},{"s":"303","x":0.775,"y":190},{"s":"303","x":0.8,"y":180},{"s":"303","x":0.825,"y":160},{"s":"303","x":0.85,"y":170},{"s":"303","x":0.875,"y":150},{"s":"303","x":0.9,"y":140},{"s":"303","x":0.925,"y":120},{"s":"303","x":0.95,"y":80},{"s":"303","x":0.975,"y":30},{"s":"303","x":1,"y":5}
],
"c14":[
{"s":"403","x":0,"y":0},{"s":"403","x":0.025,"y":0},{"s":"403","x":0.05,"y":0},{"s":"403","x":0.075,"y":2},{"s":"403","x":0.1,"y":5},{"s":"403","x":0.125,"y":10},{"s":"403","x":0.15,"y":20},{"s":"403","x":0.175,"y":30},{"s":"403","x":0.2,"y":45},{"s":"403","x":0.225,"y":60},{"s":"403","x":0.25,"y":80},{"s":"403","x":0.275,"y":100},{"s":"403","x":0.3,"y":90},{"s":"403","x":0.325,"y":120},{"s":"403","x":0.35,"y":150},{"s":"403","x":0.375,"y":130},{"s":"403","x":0.4,"y":160},{"s":"403","x":0.425,"y":140},{"s":"403","x":0.45,"y":180},{"s":"403","x":0.475,"y":220},{"s":"403","x":0.5,"y":250},{"s":"403","x":0.525,"y":200},{"s":"403","x":0.55,"y":230},{"s":"403","x":0.575,"y":210},{"s":"403","x":0.6,"y":260},{"s":"403","x":0.625,"y":240},{"s":"403","x":0.65,"y":300},{"s":"403","x":0.675,"y":230},{"s":"403","x":0.7,"y":310},{"s":"403","x":0.725,"y":260},{"s":"403","x":0.75,"y":280},{"s":"403","x":0.775,"y":410},{"s":"403","x":0.8,"y":250},{"s":"403","x":0.825,"y":290},{"s":"403","x":0.85,"y":270},{"s":"403","x":0.875,"y":200},{"s":"403","x":0.9,"y":120},{"s":"403","x":0.925,"y":60},{"s":"403","x":0.95,"y":40},{"s":"403","x":0.975,"y":20},{"s":"403","x":1,"y":5},
{"s":"405","x":0,"y":0},{"s":"405","x":0.025,"y":2},{"s":"405","x":0.05,"y":5},{"s":"405","x":0.075,"y":10},{"s":"405","x":0.1,"y":20},{"s":"405","x":0.125,"y":30},{"s":"405","x":0.15,"y":40},{"s":"405","x":0.175,"y":50},{"s":"405","x":0.2,"y":80},{"s":"405","x":0.225,"y":150},{"s":"405","x":0.25,"y":200},{"s":"405","x":0.275,"y":170},{"s":"405","x":0.3,"y":250},{"s":"405","x":0.325,"y":200},{"s":"405","x":0.35,"y":280},{"s":"405","x":0.375,"y":250},{"s":"405","x":0.4,"y":440},{"s":"405","x":0.425,"y":270},{"s":"405","x":0.45,"y":300},{"s":"405","x":0.475,"y":280},{"s":"405","x":0.5,"y":330},{"s":"405","x":0.525,"y":430},{"s":"405","x":0.55,"y":350},{"s":"405","x":0.575,"y":400},{"s":"405","x":0.6,"y":380},{"s":"405","x":0.625,"y":500},{"s":"405","x":0.65,"y":450},{"s":"405","x":0.675,"y":420},{"s":"405","x":0.7,"y":600},{"s":"405","x":0.725,"y":550},{"s":"405","x":0.75,"y":720},{"s":"405","x":0.775,"y":650},{"s":"405","x":0.8,"y":940},{"s":"405","x":0.825,"y":700},{"s":"405","x":0.85,"y":870},{"s":"405","x":0.875,"y":520},{"s":"405","x":0.9,"y":400},{"s":"405","x":0.925,"y":300},{"s":"405","x":0.95,"y":200},{"s":"405","x":0.975,"y":120},{"s":"405","x":1,"y":10},
{"s":"other","x":0,"y":0},{"s":"other","x":0.025,"y":2},{"s":"other","x":0.05,"y":5},{"s":"other","x":0.075,"y":10},{"s":"other","x":0.1,"y":15},{"s":"other","x":0.125,"y":25},{"s":"other","x":0.15,"y":40},{"s":"other","x":0.175,"y":60},{"s":"other","x":0.2,"y":80},{"s":"other","x":0.225,"y":60},{"s":"other","x":0.25,"y":90},{"s":"other","x":0.275,"y":100},{"s":"other","x":0.3,"y":110},{"s":"other","x":0.325,"y":100},{"s":"other","x":0.35,"y":130},{"s":"other","x":0.375,"y":120},{"s":"other","x":0.4,"y":150},{"s":"other","x":0.425,"y":140},{"s":"other","x":0.45,"y":170},{"s":"other","x":0.475,"y":160},{"s":"other","x":0.5,"y":180},{"s":"other","x":0.525,"y":150},{"s":"other","x":0.55,"y":170},{"s":"other","x":0.575,"y":190},{"s":"other","x":0.6,"y":160},{"s":"other","x":0.625,"y":210},{"s":"other","x":0.65,"y":230},{"s":"other","x":0.675,"y":170},{"s":"other","x":0.7,"y":150},{"s":"other","x":0.725,"y":140},{"s":"other","x":0.75,"y":110},{"s":"other","x":0.775,"y":120},{"s":"other","x":0.8,"y":100},{"s":"other","x":0.825,"y":90},{"s":"other","x":0.85,"y":110},{"s":"other","x":0.875,"y":80},{"s":"other","x":0.9,"y":70},{"s":"other","x":0.925,"y":50},{"s":"other","x":0.95,"y":30},{"s":"other","x":0.975,"y":15},{"s":"other","x":1,"y":3}
]
},
"concat":[
{"width":167,"height":193,"title":"Treated day 1","data":{"name":"t1"},"mark":"line","encoding":{"x":{"field":"x","type":"quantitative","scale":{"domain":[0,1],"nice":false},"axis":{"values":[0,0.5,1],"format":"~g","title":"Tumour radius percentage"}},"y":{"field":"y","type":"quantitative","scale":{"domain":[0,1000],"nice":false},"axis":{"values":[0,200,400,600,800,1000],"format":"d","title":"Number of loops"}},"color":{"field":"s","type":"nominal","scale":{"domain":["202","204","203","201","205"],"range":["#0072BD","#D95319","#EDB120","#7E2F8E","#77AC30"]},"legend":{"title":null}}}},
{"width":167,"height":193,"title":"Treated day 3","data":{"name":"t3"},"mark":"line","encoding":{"x":{"field":"x","type":"quantitative","scale":{"domain":[0,1],"nice":false},"axis":{"values":[0,0.5,1],"format":"~g","title":"Tumour radius percentage"}},"y":{"field":"y","type":"quantitative","scale":{"domain":[0,1000],"nice":false},"axis":{"values":[0,200,400,600,800,1000],"format":"d","title":"Number of loops"}},"color":{"field":"s","type":"nominal","scale":{"domain":["401","402","403","404"],"range":["#0072BD","#D95319","#EDB120","#7E2F8E"]},"legend":{"title":null}}}},
{"width":167,"height":193,"title":"Treated day 7","data":{"name":"t7"},"mark":"line","encoding":{"x":{"field":"x","type":"quantitative","scale":{"domain":[0,1],"nice":false},"axis":{"values":[0,0.5,1],"format":"~g","title":"Tumour radius percentage"}},"y":{"field":"y","type":"quantitative","scale":{"domain":[0,1000],"nice":false},"axis":{"values":[0,200,400,600,800,1000],"format":"d","title":"Number of loops"}},"color":{"field":"s","type":"nominal","scale":{"domain":["705","703"],"range":["#0072BD","#D95319"]},"legend":{"title":null}}}},
{"width":167,"height":193,"title":"Treated day 14","data":{"name":"t14"},"mark":"line","encoding":{"x":{"field":"x","type":"quantitative","scale":{"domain":[0,1],"nice":false},"axis":{"values":[0,0.5,1],"format":"~g","title":"Tumour radius percentage"}},"y":{"field":"y","type":"quantitative","scale":{"domain":[0,1000],"nice":false},"axis":{"values":[0,200,400,600,800,1000],"format":"d","title":"Number of loops"}},"color":{"field":"s","type":"nominal","scale":{"domain":["10-2"],"range":["#0072BD"]},"legend":{"title":null}}}},
{"width":167,"height":193,"title":"Controls day 1","data":{"name":"c1"},"mark":"line","encoding":{"x":{"field":"x","type":"quantitative","scale":{"domain":[0,1],"nice":false},"axis":{"values":[0,0.5,1],"format":"~g","title":"Tumour radius percentage"}},"y":{"field":"y","type":"quantitative","scale":{"domain":[0,1000],"nice":false},"axis":{"values":[0,200,400,600,800,1000],"format":"d","title":"Number of loops"}},"color":{"field":"s","type":"nominal","scale":{"domain":["101","102","103","104","105"],"range":["#0072BD","#D95319","#EDB120","#7E2F8E","#77AC30"]},"legend":{"title":null}}}},
{"width":167,"height":193,"title":"Controls day 3","data":{"name":"c3"},"mark":"line","encoding":{"x":{"field":"x","type":"quantitative","scale":{"domain":[0,1],"nice":false},"axis":{"values":[0,0.5,1],"format":"~g","title":"Tumour radius percentage"}},"y":{"field":"y","type":"quantitative","scale":{"domain":[0,1000],"nice":false},"axis":{"values":[0,200,400,600,800,1000],"format":"d","title":"Number of loops"}},"color":{"field":"s","type":"nominal","scale":{"domain":["303","302","301","304","305"],"range":["#0072BD","#D95319","#EDB120","#7E2F8E","#77AC30"]},"legend":{"title":null}}}},
{"width":167,"height":193,"title":"Controls day 7","data":{"name":"c7"},"mark":"line","encoding":{"x":{"field":"x","type":"quantitative","scale":{"domain":[0,1],"nice":false},"axis":{"values":[0,0.5,1],"format":"~g","title":"Tumour radius percentage"}},"y":{"field":"y","type":"quantitative","scale":{"domain":[0,1000],"nice":false},"axis":{"values":[0,200,400,600,800,1000],"format":"d","title":"Number of loops"}},"color":{"field":"s","type":"nominal","scale":{"domain":["301","302","305","304","303"],"range":["#0072BD","#D95319","#EDB120","#7E2F8E","#77AC30"]},"legend":{"title":null}}}},
{"width":167,"height":193,"title":"Controls day 14","data":{"name":"c14"},"mark":"line","encoding":{"x":{"field":"x","type":"quantitative","scale":{"domain":[0,1],"nice":false},"axis":{"values":[0,0.5,1],"format":"~g","title":"Tumour radius percentage"}},"y":{"field":"y","type":"quantitative","scale":{"domain":[0,1000],"nice":false},"axis":{"values":[0,200,400,600,800,1000],"format":"d","title":"Number of loops"}},"color":{"field":"s","type":"nominal","scale":{"domain":["403","405","other"],"range":["#0072BD","#D95319","#EDB120"]},"legend":{"title":null,"values":["403","405"],"orient":"none","legendX":40,"legendY":8}}}}
]
}
